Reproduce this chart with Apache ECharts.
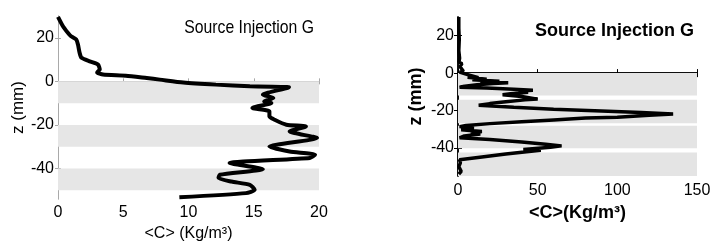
<!DOCTYPE html>
<html><head><meta charset="utf-8">
<script src="https://cdn.jsdelivr.net/npm/echarts@6/dist/echarts.min.js"></script>
<style>html,body{margin:0;padding:0;background:#fff}#c{width:728px;height:250px}</style>
</head><body><div id="c"></div>
<script>
// Left panel: <C> (Kg/m3) vs z (mm)
const leftC = [0, 0.38, 0.77, 1.0, 1.4, 1.53, 1.66, 1.8, 2.43, 3.07, 3.2, 3.0, 3.45, 5.2, 6.8, 7.8, 9.6, 12.1, 14.7, 17.2, 17.7, 15.7, 16.5, 15.8, 16.35, 14.9, 16.2, 16.2, 16.6, 17.5, 19.0, 17.75, 19.85, 16.2, 17.75, 19.7, 19.3, 13.15, 15.7, 12.4, 12.3, 13.3, 14.7, 15.07, 14.4, 9.3];
const leftZ = [29.6, 25.3, 22.2, 20.7, 19.2, 16.9, 13, 10.8, 9.2, 7.7, 5.4, 4.1, 3.1, 2.6, 1.5, 0.8, -0.5, -1.5, -2.3, -2.6, -2.7, -6.1, -7.6, -9.2, -9.9, -12.2, -13.8, -16.1, -17.6, -19.9, -20.7, -23, -26, -29.9, -32.2, -33.7, -35.2, -37.5, -40.3, -42.9, -44.4, -46, -47.5, -49.8, -51.3, -53.2];
// Right panel
const rightC = [0.5, 0.5, 0.8, 0.5, 1, 0.6, 2.5, 1.2, 3.4, 1, 5, 12.8, 6, 18, 9, 26, 14, 31.5, 22, 12, 3, 1, 18, 35, 47, 38, 44, 33, 28, 40, 50, 42, 30, 20, 13, 35, 60, 90, 115, 135, 120, 100, 80, 60, 40, 20, 5, 1, 10, 2, 15, 8, 14, 4, 1, 20, 40, 55, 65, 58, 41, 52, 43, 30, 15, 1, 1.5, 0.5, 2, 0.5];
const rightZ = [30, 24, 18, 12, 8, 6, 5, 3.5, 1, 0.5, -0.5, -2.5, -2.2, -3.3, -3.5, -4.3, -4.5, -5.2, -5.6, -6.2, -7.2, -7.6, -8, -8.6, -9.1, -9.6, -10.2, -11, -11.6, -12.5, -13.9, -14.3, -15.3, -16.3, -17.2, -18.3, -19.3, -20.2, -21, -21.8, -22.5, -23.6, -24, -25, -26, -27, -28, -28.6, -29.6, -30.3, -31.2, -32, -32.6, -33.6, -34.6, -35.5, -36.8, -38, -38.9, -39.6, -40.8, -41.2, -42, -43.2, -44.8, -46.3, -48, -50, -52.5, -54];
const yTicks = [20, 0, -20, -40];
const leftBands = [[0, -10], [-20, -30], [-40, -50]];
const rightBands = [[0, -12], [-14.3, -26.8], [-28.2, -40.1], [-42.5, -55]];
const titleText = 'Source Injection G';
const leftXName = '<C> (Kg/m³)';
const rightXName = '<C>(Kg/m³)';
const yName = 'z (mm)';

const SANS = '"Liberation Sans", Arial, sans-serif';

const chart = echarts.init(document.getElementById('c'), null, {renderer: 'canvas'});
const lgray = '#a9a9a9';
function pairs(a, b) { return a.map((v, i) => [v, b[i]]); }

chart.setOption({
  animation: false,
  backgroundColor: '#fff',
  grid: [
    {left: 58, right: 409, top: 16, bottom: 51},
    {left: 458, right: 31, top: 17, bottom: 74}
  ],
  xAxis: [
    {gridIndex: 0, type: 'value', min: 0, max: 20, interval: 5, position: 'bottom',
     axisLine: {lineStyle: {color: lgray, width: 1}},
     axisTick: {inside: true, length: 3, lineStyle: {color: lgray}},
     axisLabel: {color: '#000', fontSize: 16, fontFamily: SANS, margin: 6},
     splitLine: {show: false},
     name: leftXName, nameLocation: 'middle', nameGap: 25,
     nameTextStyle: {color: '#000', fontSize: 16, fontFamily: SANS}},
    {gridIndex: 0, type: 'value', min: 0, max: 20, interval: 5, position: 'top',
     axisLine: {lineStyle: {color: lgray, width: 1}},
     axisTick: {inside: true, length: 3, lineStyle: {color: lgray}},
     axisLabel: {show: false}, splitLine: {show: false}},
    {gridIndex: 1, type: 'value', min: 0, max: 150, interval: 50, position: 'bottom',
     axisLine: {lineStyle: {color: '#000', width: 1.5}},
     axisTick: {inside: true, length: 4, lineStyle: {color: '#000'}},
     axisLabel: {color: '#000', fontSize: 16, fontFamily: SANS, margin: 7},
     splitLine: {show: false},
     name: rightXName, nameLocation: 'middle', nameGap: 25,
     nameTextStyle: {color: '#000', fontSize: 18, fontWeight: 'bold', fontFamily: SANS}},
    {gridIndex: 1, type: 'value', min: 0, max: 150, interval: 50, position: 'top',
     axisLine: {lineStyle: {color: '#000', width: 1.5}},
     axisTick: {inside: true, length: 4, lineStyle: {color: '#000'}},
     axisLabel: {show: false}, splitLine: {show: false}}
  ],
  yAxis: [
    {gridIndex: 0, type: 'value', min: -54, max: 30, position: 'left',
     axisLine: {lineStyle: {color: lgray, width: 1}},
     axisTick: {inside: true, length: 3, customValues: yTicks, lineStyle: {color: lgray}},
     axisLabel: {color: '#000', fontSize: 16, fontFamily: SANS, margin: 4, customValues: yTicks},
     splitLine: {show: false},
     name: yName, nameLocation: 'middle', nameGap: 25, nameRotate: 90,
     nameTextStyle: {color: '#000', fontSize: 17, fontFamily: SANS}},
    {gridIndex: 0, type: 'value', min: -54, max: 30, position: 'right',
     axisLine: {lineStyle: {color: lgray, width: 1}},
     axisTick: {inside: true, length: 3, customValues: yTicks, lineStyle: {color: lgray}},
     axisLabel: {show: false}, splitLine: {show: false}},
    {gridIndex: 1, type: 'value', min: -55, max: 30, position: 'left',
     axisLine: {lineStyle: {color: '#000', width: 1.5}},
     axisTick: {inside: true, length: 4, customValues: yTicks, lineStyle: {color: '#000'}},
     axisLabel: {color: '#000', fontSize: 16, fontFamily: SANS, margin: 4, customValues: yTicks},
     splitLine: {show: false},
     name: yName, nameLocation: 'middle', nameGap: 33, nameRotate: 90,
     nameTextStyle: {color: '#000', fontSize: 18, fontWeight: 'bold', fontFamily: SANS}},
    {gridIndex: 1, type: 'value', min: -55, max: 30, position: 'right',
     axisLine: {lineStyle: {color: '#000', width: 1.5}},
     axisTick: {inside: true, length: 4, customValues: yTicks, lineStyle: {color: '#000'}},
     axisLabel: {show: false}, splitLine: {show: false}}
  ],
  graphic: [
    {type: 'text', x: 314, y: 28, z: 100, scaleX: 0.83,
     style: {text: titleText, fill: '#000', font: '19px ' + SANS, textAlign: 'right', textVerticalAlign: 'middle'}},
    {type: 'text', x: 694, y: 31, z: 100,
     style: {text: titleText, fill: '#000', font: 'bold 18px ' + SANS, textAlign: 'right', textVerticalAlign: 'middle'}}
  ],
  series: [
    {type: 'line', xAxisIndex: 0, yAxisIndex: 0, data: pairs(leftC, leftZ),
     showSymbol: false, smooth: 0.2, lineStyle: {color: '#000', width: 4}, z: 5,
     markArea: {silent: true, itemStyle: {color: '#e6e6e6'},
       data: leftBands.map(b => [{yAxis: b[0]}, {yAxis: b[1]}])}},
    {type: 'line', xAxisIndex: 2, yAxisIndex: 2, data: pairs(rightC, rightZ),
     showSymbol: false, lineStyle: {color: '#000', width: 3.5}, z: 5,
     markArea: {silent: true, itemStyle: {color: '#e4e4e4'},
       data: rightBands.map(b => [{yAxis: b[0]}, {yAxis: b[1]}])}}
  ]
});
</script>
</body></html>
